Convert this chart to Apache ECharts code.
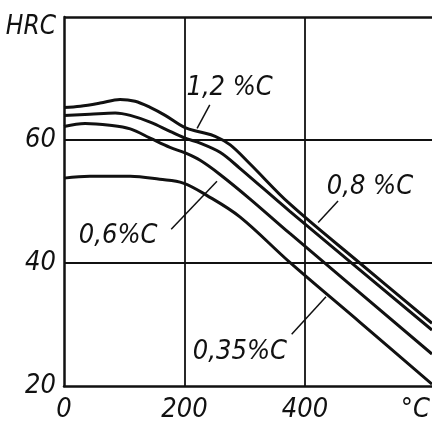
<!DOCTYPE html>
<html>
<head>
<meta charset="utf-8">
<script src="https://cdn.jsdelivr.net/npm/echarts@6/dist/echarts.min.js"></script>
<style>html,body{margin:0;padding:0;background:#fff;}#c{width:432px;height:423px;}</style>
</head>
<body>
<div id="c"></div>
<script>
// Temperature (°C) and hardness (HRC) for each carbon content
const t12   = [0, 27, 60, 93, 118, 143, 168, 201, 226, 251, 276, 309, 375, 491, 611];
const hrc12 = [65.3, 65.5, 66.0, 66.6, 66.3, 65.3, 64.0, 62.0, 61.3, 60.6, 59.2, 56.1, 49.6, 40.0, 30.2];
const t08   = [0, 43, 85, 110, 143, 176, 201, 226, 259, 292, 375, 611];
const hrc08 = [64.0, 64.2, 64.4, 64.0, 62.9, 61.4, 60.3, 59.5, 58.0, 55.4, 48.4, 29.1];
const t06   = [0, 35, 76, 110, 143, 176, 201, 226, 259, 309, 375, 611];
const hrc06 = [62.2, 62.7, 62.4, 61.8, 60.3, 58.8, 57.9, 56.7, 54.4, 50.4, 44.8, 25.2];
const t035  = [0, 43, 110, 159, 198, 237, 292, 375, 491, 611];
const hrc035= [53.8, 54.1, 54.1, 53.6, 53.0, 51.0, 47.5, 40.1, 30.4, 20.3];

const xTicks = [0, 200, 400, 600];
const xTickLabels = ['0', '200', '400', '{u|°C}'];
const yTicks = [20, 40, 60, 80];
const yTickLabels = ['20', '40', '60', '{h|HRC}'];

const curveNames = ['1,2 %C', '0,8 %C', '0,6%C', '0,35%C'];
const labelPos = [[275, 68.4], [508, 52.3], [90, 44.4], [292, 25.5]];
const leaderFrom = [[221, 61.9], [455, 50.1], [178, 45.5], [378, 28.4]];
const leaderTo   = [[242, 65.7], [422, 46.6], [254, 53.3], [435, 34.5]];

const FONT = '"Liberation Sans Narrow", "DejaVu Sans Condensed", "Liberation Sans", sans-serif';

function pairs(xs, ys) { return xs.map((x, i) => [x, ys[i]]); }

const chart = echarts.init(document.getElementById('c'), null, {renderer: 'canvas'});

const lineStyle = {color: '#111', width: 3};
function curve(xs, ys) {
  return {type: 'line', data: pairs(xs, ys), symbol: 'none', smooth: 0.35,
          lineStyle: lineStyle, silent: true, z: 5};
}

chart.setOption({
  animation: false,
  backgroundColor: '#fff',
  grid: {left: 64, right: 0, top: 17, bottom: 37, containLabel: false, outerBoundsMode: 'none'},
  xAxis: {
    type: 'value', min: 0, max: 611,
    axisLine: {show: true, onZero: false, lineStyle: {color: '#111', width: 2.5}},
    axisTick: {show: false},
    splitLine: {show: false},
    axisLabel: {
      customValues: xTicks,
      formatter: v => xTickLabels[xTicks.indexOf(v)],
      color: '#111', fontSize: 27, fontStyle: 'italic', fontFamily: FONT, margin: 10,
      rich: {u: {fontSize: 27, fontStyle: 'italic', fontFamily: FONT, color: '#111', padding: [0, 20, 0, 0]}}
    }
  },
  yAxis: {
    type: 'value', min: 20, max: 80, interval: 20,
    axisLine: {show: true, onZero: false, lineStyle: {color: '#111', width: 2.5}},
    axisTick: {show: false},
    splitLine: {show: false},
    axisLabel: {
      formatter: v => yTickLabels[yTicks.indexOf(v)],
      color: '#111', fontSize: 27, fontStyle: 'italic', fontFamily: FONT, margin: 8,
      rich: {h: {fontSize: 26, fontStyle: 'italic', fontFamily: FONT, color: '#111', padding: [20, 0, 0, 0]}}
    }
  },
  series: [
    {
      type: 'line', data: [], silent: true, z: 1,
      markLine: {
        silent: true, symbol: 'none', label: {show: false},
        lineStyle: {color: '#111', width: 1.8, type: 'solid'},
        data: [{xAxis: 200}, {xAxis: 400}, {yAxis: 40}, {yAxis: 60},
               {yAxis: 80, lineStyle: {width: 2.5}}]
      }
    },
    curve(t12, hrc12),
    curve(t08, hrc08),
    curve(t06, hrc06),
    curve(t035, hrc035),
    {
      type: 'scatter', symbolSize: 0, silent: true, z: 6,
      itemStyle: {opacity: 1},
      data: curveNames.map((n, i) => ({name: n, value: labelPos[i]})),
      label: {show: true, position: 'inside', formatter: '{b}', color: '#111', opacity: 1,
              fontSize: 27, fontStyle: 'italic', fontFamily: FONT},
      markLine: {
        silent: true, symbol: 'none', label: {show: false},
        lineStyle: {color: '#111', width: 1.5, type: 'solid', opacity: 1},
        data: leaderFrom.map((p, i) => [{coord: p}, {coord: leaderTo[i]}])
      }
    }
  ]
});
</script>
</body>
</html>
